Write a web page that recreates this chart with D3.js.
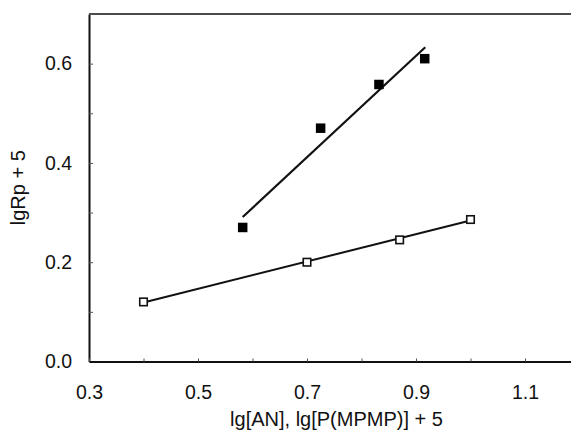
<!DOCTYPE html>
<html>
<head>
<meta charset="utf-8">
<script src="https://cdn.jsdelivr.net/npm/d3@7"></script>
<style>
  body { margin: 0; background: #fff; }
  text { font-family: "Liberation Sans", Arial, sans-serif; fill: #111; }
</style>
</head>
<body>
<svg id="chart" width="571" height="434"></svg>
<script>
// filled squares (AN series)
const filledX = [0.582, 0.725, 0.832, 0.916];
const filledY = [0.27, 0.47, 0.558, 0.61];
// fitted line through filled squares
const filledFitX = [0.582, 0.917];
const filledFitY = [0.291, 0.633];

// open squares (P(MPMP) series)
const openX = [0.4, 0.7, 0.87, 1.0];
const openY = [0.12, 0.2, 0.245, 0.286];
const openFitX = [0.4, 1.0];
const openFitY = [0.119, 0.284];

const xTicks = [0.3, 0.4, 0.5, 0.6, 0.7, 0.8, 0.9, 1.0, 1.1, 1.2];
const xTickLabels = [0.3, 0.5, 0.7, 0.9, 1.1];
const yTicks = [0, 0.1, 0.2, 0.3, 0.4, 0.5, 0.6, 0.7];
const yTickLabels = [0, 0.2, 0.4, 0.6];

const svg = d3.select('#chart');
const plotLeft = 89, plotTop = 14, plotBottom = 361.5;

var x = d3.scaleLinear().domain([0.3, 1.2]).range([plotLeft, plotLeft + 0.9 * 545]);
var y = d3.scaleLinear().domain([0, 0.7]).range([plotBottom, plotTop]);

function hasLabel(list, v) {
    return list.some(function(t) { return Math.abs(t - v) < 1e-6; });
}

// top border
svg.append('line')
    .attr('x1', plotLeft).attr('x2', 571)
    .attr('y1', y(0.7)).attr('y2', y(0.7))
    .attr('stroke', '#111').attr('stroke-width', 1.6);

// y axis
const gy = svg.append('g')
    .attr('transform', 'translate(' + plotLeft + ',0)')
    .call(d3.axisLeft(y)
        .tickValues(yTicks)
        .tickSizeInner(-4)
        .tickSizeOuter(0)
        .tickPadding(17)
        .tickFormat(function(d) { return hasLabel(yTickLabels, d) ? d3.format('.1f')(d) : ''; }));
gy.select('.domain').attr('stroke', '#111').attr('stroke-width', 2);
gy.selectAll('.tick line').attr('stroke', '#555').attr('stroke-width', 1);
gy.selectAll('.tick text').attr('font-size', '19.5px').attr('fill', '#111')
    .attr('font-family', '"Liberation Sans", Arial, sans-serif');

// x axis
const gx = svg.append('g')
    .attr('transform', 'translate(0,' + plotBottom + ')')
    .call(d3.axisBottom(x)
        .tickValues(xTicks)
        .tickSizeInner(-3)
        .tickSizeOuter(0)
        .tickPadding(24)
        .tickFormat(function(d) { return hasLabel(xTickLabels, d) ? d3.format('.1f')(d) : ''; }));
gx.select('.domain').attr('stroke', '#111').attr('stroke-width', 2);
gx.selectAll('.tick line').attr('stroke', '#555').attr('stroke-width', 1);
gx.selectAll('.tick text').attr('font-size', '19.5px').attr('fill', '#111')
    .attr('font-family', '"Liberation Sans", Arial, sans-serif');

// axis titles
svg.append('text')
    .attr('x', 336.5).attr('y', 426)
    .attr('text-anchor', 'middle')
    .attr('font-size', '20px')
    .text('lg[AN], lg[P(MPMP)] + 5');

svg.append('text')
    .attr('transform', 'translate(25,' + ((plotTop + plotBottom) / 2) + ') rotate(-90)')
    .attr('text-anchor', 'middle')
    .attr('font-size', '20px')
    .text('lgRp + 5');

// fit lines
const line = d3.line().x(function(d) { return x(d[0]); }).y(function(d) { return y(d[1]); });

svg.append('path')
    .datum(d3.zip(filledFitX, filledFitY))
    .attr('d', line)
    .attr('fill', 'none').attr('stroke', '#111').attr('stroke-width', 2.2);

svg.append('path')
    .datum(d3.zip(openFitX, openFitY))
    .attr('d', line)
    .attr('fill', 'none').attr('stroke', '#111').attr('stroke-width', 2);

// markers
const filled = d3.zip(filledX, filledY);
const s1 = 9.5;
svg.append('g').selectAll('rect').data(filled).enter().append('rect')
    .attr('x', function(d) { return x(d[0]) - s1 / 2; })
    .attr('y', function(d) { return y(d[1]) - s1 / 2; })
    .attr('width', s1).attr('height', s1)
    .attr('fill', '#000');

const open = d3.zip(openX, openY);
const s2 = 7.5;
svg.append('g').selectAll('rect').data(open).enter().append('rect')
    .attr('x', function(d) { return x(d[0]) - s2 / 2; })
    .attr('y', function(d) { return y(d[1]) - s2 / 2; })
    .attr('width', s2).attr('height', s2)
    .attr('fill', '#fff')
    .attr('stroke', '#111').attr('stroke-width', 1.6);
</script>
</body>
</html>
